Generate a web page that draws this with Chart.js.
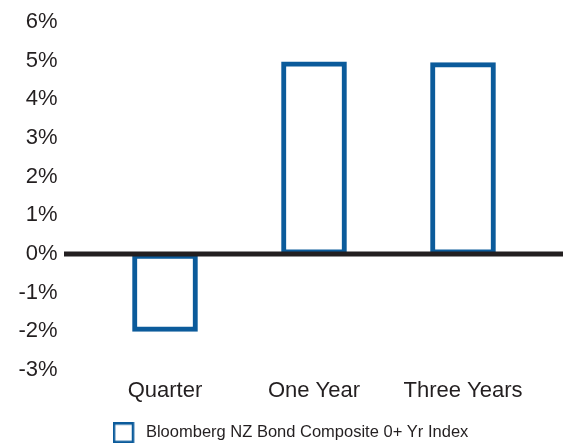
<!DOCTYPE html>
<html>
<head>
<meta charset="utf-8">
<script src="https://cdn.jsdelivr.net/npm/chart.js@4/dist/chart.umd.min.js"></script>
<style>
  html, body { margin: 0; padding: 0; background: #fff; }
  #wrap { width: 563px; height: 443px; }
</style>
</head>
<body>
<div id="wrap"><canvas id="returns"></canvas></div>
<script>
// Index returns by period (%)
const periods = ['Quarter', 'One Year', 'Three Years'];
const returns = [-2.0, 4.97, 4.95];
const seriesName = 'Bloomberg NZ Bond Composite 0+ Yr Index';
const yTicks = [-3, -2, -1, 0, 1, 2, 3, 4, 5, 6];

const blue = '#0b5b9b';
const ink = '#231f20';
const font = 'Liberation Sans, Arial, sans-serif';

// Hollow legend square with some room to its right
const legendMark = (() => {
  const c = document.createElement('canvas');
  c.width = 25; c.height = 21;
  const g = c.getContext('2d');
  g.strokeStyle = blue;
  g.lineWidth = 2.5;
  g.strokeRect(1.25, 1.25, 19, 18.5);
  return c;
})();

// Heavy zero line, running past the plot on both sides
const zeroLine = {
  id: 'zeroLine',
  afterDatasetsDraw(chart) {
    const {ctx, chartArea, scales} = chart;
    const y = scales.y.getPixelForValue(0);
    ctx.save();
    ctx.strokeStyle = ink;
    ctx.lineWidth = 5;
    ctx.beginPath();
    ctx.moveTo(chartArea.left - 26.5, y);
    ctx.lineTo(chart.width, y);
    ctx.stroke();
    ctx.restore();
  }
};

new Chart(document.getElementById('returns'), {
  type: 'bar',
  data: {
    labels: periods,
    datasets: [{
      label: seriesName,
      data: returns,
      backgroundColor: '#ffffff',
      borderColor: blue,
      borderWidth: 5,
      borderSkipped: false,
      barThickness: 65
    }]
  },
  options: {
    responsive: true,
    maintainAspectRatio: false,
    animation: false,
    layout: { padding: { left: 18, right: 0, top: 22, bottom: -8 } },
    scales: {
      x: {
        grid: { display: false, drawTicks: false },
        border: { display: false },
        ticks: { color: ink, font: { family: font, size: 22 }, padding: 8 }
      },
      y: {
        min: yTicks[0],
        max: yTicks[yTicks.length - 1],
        afterBuildTicks: (s) => { s.ticks = yTicks.map((v) => ({ value: v })); },
        afterFit: (s) => { s.width = 72.5; },
        // hidden tick marks, their length sets the gap before the plot
        grid: { display: false, tickLength: 33 },
        border: { display: false },
        ticks: {
          color: ink,
          font: { family: font, size: 22 },
          padding: 0,
          callback: (v) => v + '%'
        }
      },
      // empty strip on the right, keeps the bars off the edge
      gutter: {
        position: 'right',
        afterFit: (s) => { s.width = 25.5; },
        grid: { display: false, drawTicks: false },
        border: { display: false },
        ticks: { display: false }
      }
    },
    plugins: {
      tooltip: { enabled: false },
      legend: {
        position: 'bottom',
        labels: {
          color: ink,
          font: { family: font, size: 16.5 },
          usePointStyle: true,
          pointStyle: legendMark,
          pointStyleWidth: 25,
          padding: 12
        }
      }
    }
  },
  plugins: [zeroLine]
});
</script>
</body>
</html>
